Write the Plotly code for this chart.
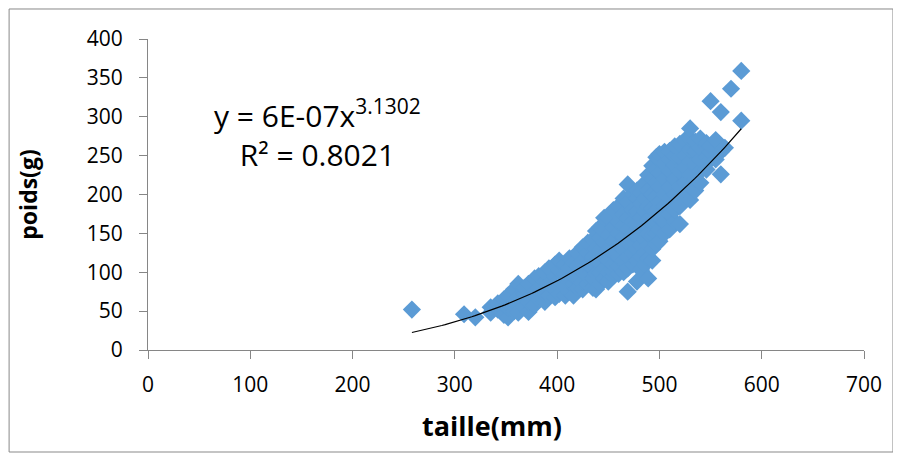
import plotly.graph_objects as go
import numpy as np

# Scatter data: taille (mm) vs poids (g)
cols = {
    258: [52],
    309: [46],
    320: [42],
    335: [48, 55],
    342: [52, 60],
    348: [45, 58, 65],
    352: [42, 55, 70],
    358: [50, 62, 78],
    362: [48, 68, 85],
    368: [55, 72, 80],
    372: [49, 62, 85],
    378: [58, 75, 92],
    382: [65, 80, 95],
    388: [62, 72, 88, 100],
    392: [70, 85, 105],
    398: [68, 78, 95, 110],
    402: [72, 90, 102, 115],
    408: [70, 82, 98, 110],
    412: [75, 88, 105, 118],
    416: [70, 85, 95, 112],
    420: [80, 92, 108, 125],
    425: [78, 88, 100, 115, 132],
    430: [85, 95, 110, 125, 138],
    435: [80, 92, 105, 120, 142],
    438: [78, 98, 115, 130, 153],
    442: [85, 100, 112, 128, 145, 158],
    446: [92, 105, 120, 138, 170],
    450: [88, 100, 115, 130, 148, 170],
    455: [95, 101, 110, 125, 140, 158, 180],
    460: [98, 108, 120, 135, 150, 165, 185],
    465: [100, 115, 130, 145, 160, 175, 195],
    469: [75, 105, 120, 138, 155, 170, 190, 213],
    474: [110, 125, 140, 150, 165, 180, 200],
    478: [88, 115, 130, 148, 162, 178, 195, 205],
    482: [103, 120, 135, 155, 170, 188, 202],
    486: [110, 125, 142, 160, 178, 195, 215],
    489: [92, 118, 135, 150, 168, 185, 205, 225],
    493: [115, 130, 148, 165, 182, 200, 220, 237],
    497: [136, 150, 165, 180, 198, 215, 232, 248],
    500: [140, 155, 170, 190, 210, 228, 245, 252],
    505: [150, 165, 185, 200, 220, 240, 255],
    510: [155, 175, 195, 210, 230, 245, 256],
    515: [165, 180, 200, 220, 238, 250, 262],
    520: [162, 185, 197, 210, 230, 248, 265],
    525: [200, 215, 235, 250, 270],
    530: [193, 210, 225, 242, 258, 272, 285],
    535: [205, 220, 238, 255, 268],
    540: [215, 230, 245, 260, 272],
    546: [232, 248, 262, 266],
    550: [245, 255, 262, 320],
    555: [245, 258, 270],
    560: [226, 255, 306],
    564: [260],
    570: [336],
    580: [295, 359],
}
taille = [x for x, ys in cols.items() for _ in ys]
poids = [y for ys in cols.values() for y in ys]

# Power trendline shown in the chart: y = a * x^b
trend_a = 6.37e-07
trend_b = 3.1302
trend_x = np.linspace(min(taille), max(taille), 100)
trend_y = trend_a * trend_x ** trend_b

x_ticks = [0, 100, 200, 300, 400, 500, 600, 700]
y_ticks = [0, 50, 100, 150, 200, 250, 300, 350, 400]
x_title = "taille(mm)"
y_title = "poids(g)"

FONT = "Open Sans"
AXIS = "#868686"

fig = go.Figure()
fig.add_trace(go.Scatter(
    x=taille, y=poids, mode="markers",
    marker=dict(symbol="diamond", size=14, color="#5B9BD5", line=dict(width=0)),
    showlegend=False, hoverinfo="x+y"))
fig.add_trace(go.Scatter(
    x=trend_x, y=trend_y, mode="lines",
    line=dict(color="black", width=1.2), showlegend=False, hoverinfo="skip"))

fig.update_layout(
    width=885, height=447,
    margin=dict(l=140, r=29, t=31, b=105, autoexpand=False),
    paper_bgcolor="white", plot_bgcolor="white",
    font=dict(family=FONT, size=21, color="black"),
    xaxis=dict(range=[0, 700], tickvals=x_ticks, ticks="outside", ticklen=8,
               tickcolor=AXIS, showline=True, linecolor=AXIS, linewidth=1,
               showgrid=False, zeroline=False, ticklabelstandoff=8,
               tickfont=dict(size=21)),
    yaxis=dict(range=[0, 400], tickvals=y_ticks, ticks="outside", ticklen=8,
               tickcolor=AXIS, showline=True, linecolor=AXIS, linewidth=1,
               showgrid=False, zeroline=False, ticklabelstandoff=12,
               title=dict(text="<b>" + y_title + "</b>", font=dict(size=23), standoff=42),
               tickfont=dict(size=21)),
    shapes=[dict(type="rect", xref="paper", yref="paper",
                 x0=-0.194, x1=1.0405, y0=-0.328, y1=1.0965,
                 line=dict(color="#898989", width=1), fillcolor="rgba(0,0,0,0)",
                 layer="below")],
    annotations=[
        dict(xref="paper", yref="paper", x=0.237, y=0.695,
             xanchor="center", yanchor="middle",
             text="y = 6E-07x<sup>3.1302</sup><br>R² = 0.8021",
             showarrow=False, align="center",
             font=dict(family=FONT, size=30, color="black")),
        dict(xref="paper", yref="paper", x=0.481, y=-0.242,
             xanchor="center", yanchor="middle",
             text="<b>" + x_title + "</b>", showarrow=False,
             font=dict(family=FONT, size=27, color="black")),
    ],
)

fig.write_html("out.html")
